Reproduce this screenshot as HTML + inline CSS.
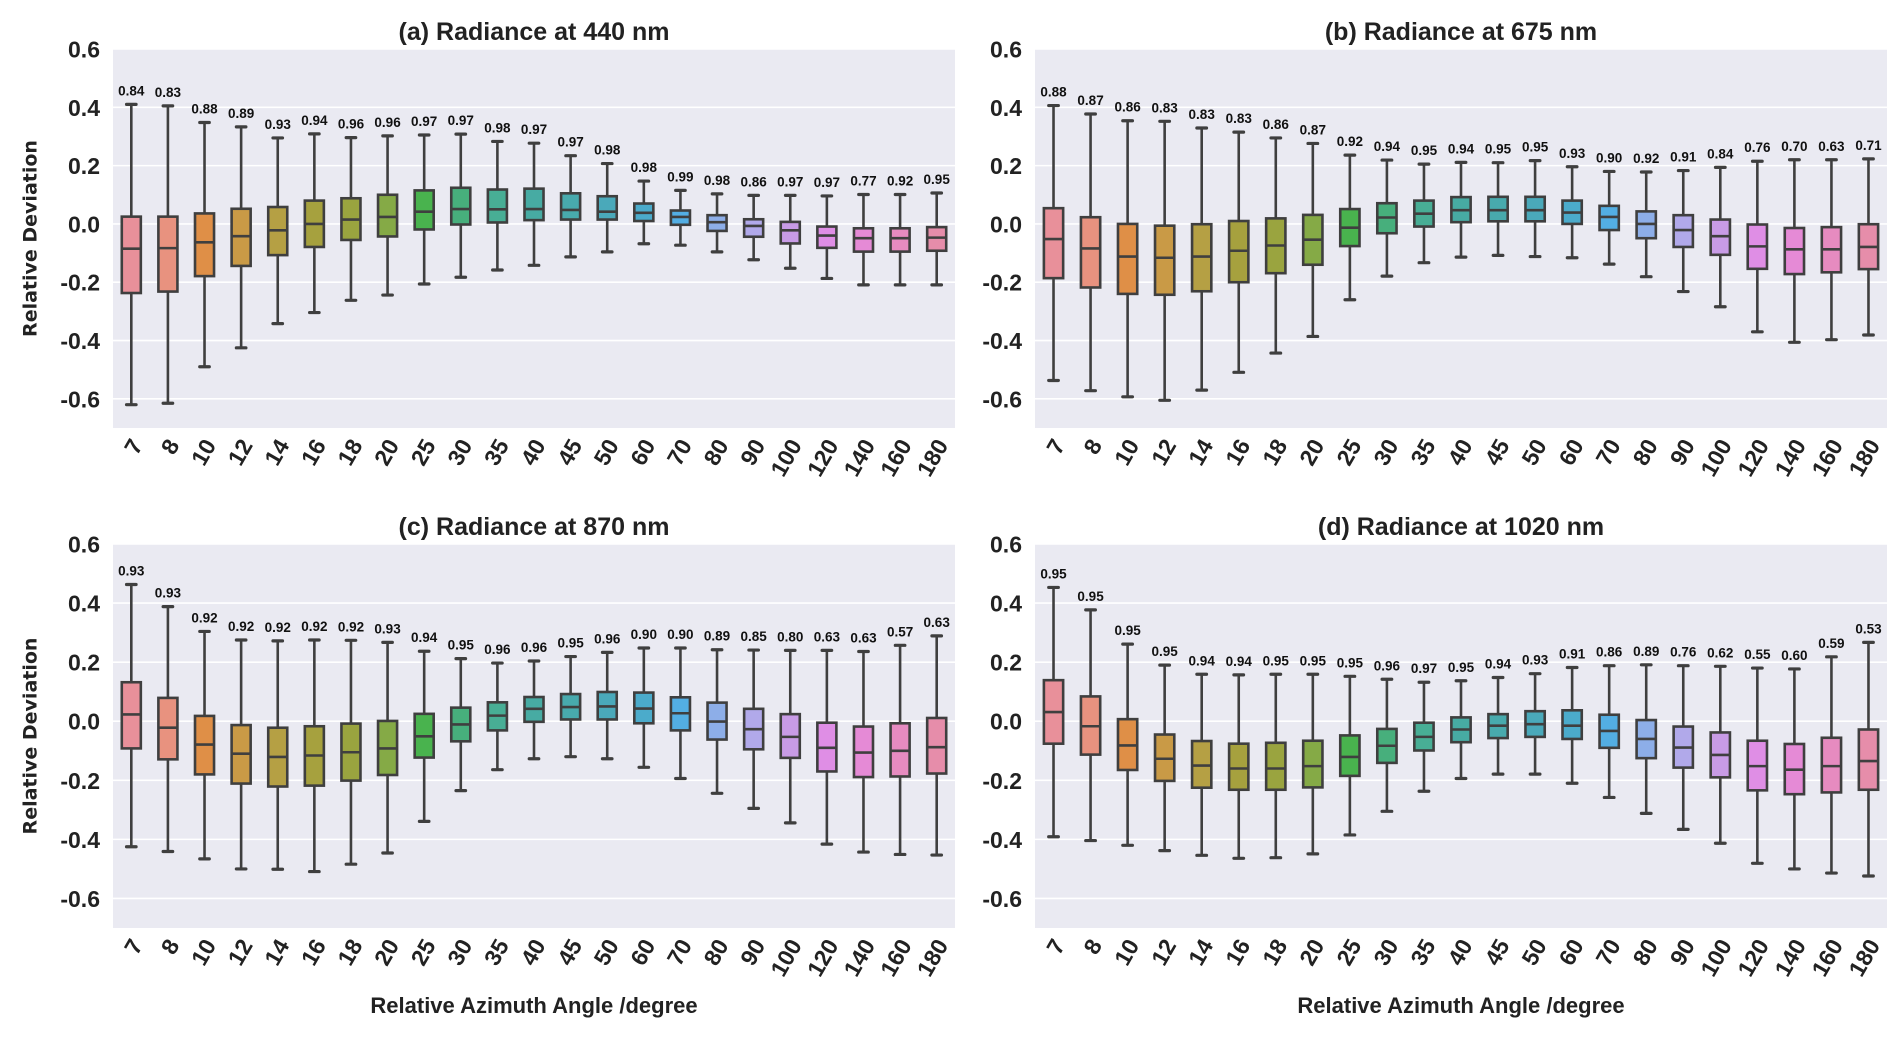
<!DOCTYPE html>
<html><head><meta charset="utf-8">
<style>
html,body{margin:0;padding:0;background:#fff;}
svg{display:block;}
</style></head>
<body>
<svg id="fig" width="1892" height="1039" viewBox="0 0 1892 1039" xmlns="http://www.w3.org/2000/svg"></svg>
<script>
const categories = ['7','8','10','12','14','16','18','20','25','30','35','40','45','50','60','70','80','90','100','120','140','160','180'];
const yTicks = [0.6,0.4,0.2,0.0,-0.2,-0.4,-0.6];
const yTickLabels = ['0.6','0.4','0.2','0.0','-0.2','-0.4','-0.6'];
const colors = ['#e8909a','#e8927f','#df8f47','#c99a46','#b5a044','#a6a13e','#9aa43f','#85aa46','#49b34e','#47af7c','#48ae95','#47aba3','#48aaad','#4aa9ba','#4babcb','#53aee3','#8daee8','#b1a9ea','#c89be6','#df8ee5','#e58ad6','#e68bc0','#e68daa'];

const a_hi  = [0.41,0.405,0.348,0.333,0.295,0.309,0.296,0.302,0.305,0.308,0.283,0.277,0.234,0.207,0.147,0.115,0.103,0.098,0.098,0.096,0.101,0.101,0.106];
const a_q3  = [0.025,0.025,0.036,0.052,0.058,0.08,0.088,0.1,0.115,0.124,0.118,0.121,0.105,0.095,0.07,0.046,0.03,0.016,0.007,-0.009,-0.015,-0.015,-0.011];
const a_med = [-0.085,-0.083,-0.063,-0.042,-0.022,0.0,0.015,0.024,0.042,0.051,0.05,0.051,0.048,0.042,0.038,0.024,0.006,-0.007,-0.022,-0.04,-0.049,-0.049,-0.047];
const a_q1  = [-0.237,-0.232,-0.179,-0.144,-0.107,-0.079,-0.055,-0.043,-0.019,-0.002,0.005,0.013,0.015,0.015,0.01,-0.003,-0.024,-0.044,-0.067,-0.082,-0.095,-0.095,-0.092];
const a_lo  = [-0.62,-0.615,-0.49,-0.425,-0.342,-0.304,-0.262,-0.244,-0.206,-0.183,-0.158,-0.142,-0.113,-0.096,-0.068,-0.073,-0.096,-0.123,-0.152,-0.187,-0.209,-0.209,-0.209];
const a_r   = ['0.84','0.83','0.88','0.89','0.93','0.94','0.96','0.96','0.97','0.97','0.98','0.97','0.97','0.98','0.98','0.99','0.98','0.86','0.97','0.97','0.77','0.92','0.95'];

const b_hi  = [0.406,0.377,0.354,0.352,0.329,0.315,0.295,0.276,0.236,0.219,0.205,0.211,0.21,0.217,0.196,0.18,0.178,0.183,0.194,0.215,0.22,0.22,0.223];
const b_q3  = [0.054,0.023,0.0,-0.006,-0.001,0.01,0.019,0.031,0.051,0.071,0.08,0.092,0.093,0.093,0.08,0.062,0.043,0.03,0.015,-0.002,-0.014,-0.011,-0.001];
const b_med = [-0.052,-0.084,-0.112,-0.116,-0.112,-0.092,-0.074,-0.054,-0.013,0.022,0.035,0.047,0.047,0.047,0.039,0.024,0.0,-0.021,-0.042,-0.077,-0.087,-0.087,-0.079];
const b_q1  = [-0.186,-0.218,-0.24,-0.243,-0.231,-0.2,-0.169,-0.14,-0.076,-0.032,-0.009,0.006,0.009,0.009,0.0,-0.021,-0.049,-0.079,-0.106,-0.154,-0.172,-0.166,-0.155];
const b_lo  = [-0.537,-0.572,-0.593,-0.605,-0.57,-0.509,-0.443,-0.386,-0.26,-0.179,-0.133,-0.114,-0.108,-0.112,-0.116,-0.138,-0.181,-0.232,-0.284,-0.37,-0.406,-0.397,-0.381];
const b_r   = ['0.88','0.87','0.86','0.83','0.83','0.83','0.86','0.87','0.92','0.94','0.95','0.94','0.95','0.95','0.93','0.90','0.92','0.91','0.84','0.76','0.70','0.63','0.71'];

const c_hi  = [0.463,0.388,0.304,0.275,0.272,0.275,0.274,0.267,0.237,0.212,0.197,0.204,0.219,0.233,0.248,0.248,0.242,0.241,0.24,0.24,0.236,0.257,0.289];
const c_q3  = [0.132,0.079,0.018,-0.013,-0.022,-0.017,-0.008,0.001,0.025,0.046,0.064,0.082,0.092,0.099,0.097,0.081,0.063,0.042,0.024,-0.005,-0.018,-0.007,0.011];
const c_med = [0.023,-0.022,-0.079,-0.11,-0.121,-0.116,-0.105,-0.092,-0.051,-0.011,0.019,0.042,0.048,0.05,0.043,0.027,-0.001,-0.027,-0.053,-0.09,-0.106,-0.1,-0.088];
const c_q1  = [-0.092,-0.129,-0.18,-0.211,-0.221,-0.218,-0.201,-0.182,-0.123,-0.068,-0.031,-0.002,0.006,0.006,-0.007,-0.031,-0.062,-0.095,-0.124,-0.17,-0.189,-0.187,-0.177];
const c_lo  = [-0.425,-0.441,-0.466,-0.5,-0.501,-0.509,-0.484,-0.446,-0.339,-0.235,-0.164,-0.127,-0.12,-0.127,-0.156,-0.194,-0.244,-0.295,-0.344,-0.416,-0.443,-0.451,-0.453];
const c_r   = ['0.93','0.93','0.92','0.92','0.92','0.92','0.92','0.93','0.94','0.95','0.96','0.96','0.95','0.96','0.90','0.90','0.89','0.85','0.80','0.63','0.63','0.57','0.63'];

const d_hi  = [0.453,0.377,0.261,0.19,0.159,0.157,0.159,0.159,0.152,0.142,0.132,0.137,0.148,0.161,0.182,0.188,0.191,0.188,0.186,0.18,0.177,0.218,0.267];
const d_q3  = [0.139,0.084,0.007,-0.045,-0.067,-0.076,-0.073,-0.066,-0.048,-0.026,-0.005,0.013,0.024,0.034,0.037,0.022,0.004,-0.018,-0.038,-0.066,-0.077,-0.056,-0.028];
const d_med = [0.031,-0.017,-0.082,-0.127,-0.15,-0.16,-0.16,-0.152,-0.121,-0.083,-0.053,-0.028,-0.015,-0.01,-0.015,-0.033,-0.06,-0.089,-0.114,-0.152,-0.164,-0.152,-0.135];
const d_q1  = [-0.076,-0.113,-0.165,-0.202,-0.225,-0.232,-0.232,-0.224,-0.185,-0.141,-0.099,-0.071,-0.057,-0.053,-0.06,-0.09,-0.125,-0.157,-0.19,-0.234,-0.247,-0.241,-0.232];
const d_lo  = [-0.391,-0.404,-0.42,-0.438,-0.454,-0.464,-0.462,-0.449,-0.385,-0.305,-0.237,-0.194,-0.179,-0.179,-0.21,-0.258,-0.312,-0.366,-0.413,-0.481,-0.5,-0.514,-0.524];
const d_r   = ['0.95','0.95','0.95','0.95','0.94','0.94','0.95','0.95','0.95','0.96','0.97','0.95','0.94','0.93','0.91','0.86','0.89','0.76','0.62','0.55','0.60','0.59','0.53'];

const NS='http://www.w3.org/2000/svg';
const svg=document.getElementById('fig');
function mk(tag,attrs,parent){const e=document.createElementNS(NS,tag);for(const k in attrs)e.setAttribute(k,attrs[k]);(parent||svg).appendChild(e);return e;}

const panels=[
 {id:'a',title:'(a) Radiance at 440 nm',x0:113,x1:955,y0:49,y1:428,hi:a_hi,q3:a_q3,med:a_med,q1:a_q1,lo:a_lo,r:a_r,ylab:true,xlab:false},
 {id:'b',title:'(b) Radiance at 675 nm',x0:1035,x1:1887,y0:49,y1:428,hi:b_hi,q3:b_q3,med:b_med,q1:b_q1,lo:b_lo,r:b_r,ylab:false,xlab:false},
 {id:'c',title:'(c) Radiance at 870 nm',x0:113,x1:955,y0:544,y1:928,hi:c_hi,q3:c_q3,med:c_med,q1:c_q1,lo:c_lo,r:c_r,ylab:true,xlab:true},
 {id:'d',title:'(d) Radiance at 1020 nm',x0:1035,x1:1887,y0:544,y1:928,hi:d_hi,q3:d_q3,med:d_med,q1:d_q1,lo:d_lo,r:d_r,ylab:false,xlab:true}
];
const YMAX=0.6,YMIN=-0.7;
panels.forEach(p=>{
  const g=mk('g',{});
  
  
  const yS=v=>p.y0+(YMAX-v)/(YMAX-YMIN)*(p.y1-p.y0);
  const bw=(p.x1-p.x0)/categories.length;
  const xS=i=>p.x0+bw*(i+0.5);
  const bg=mk('rect',{x:p.x0,y:p.y0,width:p.x1-p.x0,height:p.y1-p.y0,fill:'#eaeaf2'},g);
  
  
  yTicks.forEach((t,i)=>{
    const yy=yS(t);
    const gl=mk('line',{x1:p.x0,x2:p.x1,y1:yy,y2:yy,stroke:'#fff','stroke-width':1.6},g);
    
    
    const tl=mk('text',{x:p.x0-13,y:yy+8.5,'text-anchor':'end','font-family':'Liberation Sans, sans-serif','font-weight':'bold','font-size':23,fill:'#222'},g);
    tl.textContent=yTickLabels[i];
    
    
  });
  const tt=mk('text',{x:(p.x0+p.x1)/2,y:p.y0-9,'text-anchor':'middle','font-family':'Liberation Sans, sans-serif','font-weight':'bold','font-size':25,fill:'#222'},g);
  tt.textContent=p.title;
  
  
  const boxW=bw*0.52;
  categories.forEach((c,i)=>{
    const cx=xS(i);
    const bg2=mk('g',{},g);
    
    
    const st={stroke:'#3f3f3f','stroke-width':2.6};
    mk('line',Object.assign({x1:cx,x2:cx,y1:yS(p.hi[i]),y2:yS(p.q3[i])},st),bg2);
    mk('line',Object.assign({x1:cx,x2:cx,y1:yS(p.q1[i]),y2:yS(p.lo[i])},st),bg2);
    mk('line',Object.assign({x1:cx-boxW/4,x2:cx+boxW/4,y1:yS(p.hi[i]),y2:yS(p.hi[i]),'stroke-linecap':'round'},st,{'stroke-width':3.2}),bg2);
    mk('line',Object.assign({x1:cx-boxW/4,x2:cx+boxW/4,y1:yS(p.lo[i]),y2:yS(p.lo[i]),'stroke-linecap':'round'},st,{'stroke-width':3.2}),bg2);
    mk('rect',Object.assign({x:cx-boxW/2,y:yS(p.q3[i]),width:boxW,height:yS(p.q1[i])-yS(p.q3[i]),fill:colors[i]},st),bg2);
    mk('line',Object.assign({x1:cx-boxW/2,x2:cx+boxW/2,y1:yS(p.med[i]),y2:yS(p.med[i])},st),bg2);
    const lab=mk('text',{x:cx,y:yS(p.hi[i])-9,'text-anchor':'middle','font-family':'Liberation Sans, sans-serif','font-weight':'bold','font-size':13.5,fill:'#111'},g);
    lab.textContent=p.r[i];
    
    
    const ty=p.y1+14;
    const xl=mk('text',{x:cx+7,y:ty,'text-anchor':'end','font-family':'Liberation Sans, sans-serif','font-weight':'bold','font-size':23,fill:'#222',transform:'rotate(-60 '+(cx+7)+' '+ty+')','dominant-baseline':'middle'},g);
    xl.textContent=c;
    
    
  });
  if(p.ylab){
    const cy=(p.y0+p.y1)/2;
    const yl=mk('text',{x:31,y:cy,'text-anchor':'middle','font-family':'DejaVu Sans, sans-serif','font-weight':'bold','font-size':19,fill:'#222',transform:'rotate(-90 31 '+cy+')','dominant-baseline':'middle'},g);
    yl.textContent='Relative Deviation';
    
    
  }
  if(p.xlab){
    const xl2=mk('text',{x:(p.x0+p.x1)/2,y:1013,'text-anchor':'middle','font-family':'Liberation Sans, sans-serif','font-weight':'bold','font-size':22,fill:'#222'},g);
    xl2.textContent='Relative Azimuth Angle /degree';
    
    
  }
});
</script>
</body></html>
